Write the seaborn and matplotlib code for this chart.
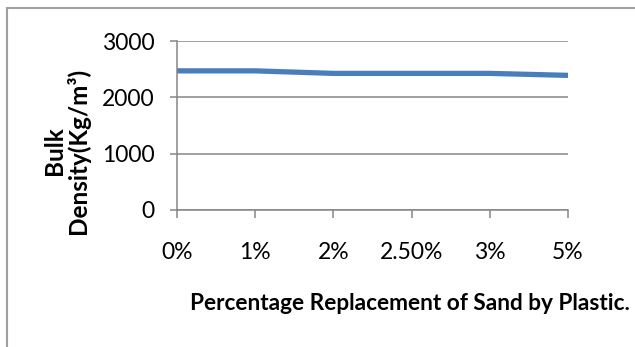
import matplotlib
matplotlib.use("Agg")
import matplotlib.pyplot as plt
from matplotlib.lines import Line2D
import seaborn as sns
import pandas as pd

# Bulk density of concrete for each sand-replacement level
replacement = ["0%", "1%", "2%", "2.50%", "3%", "5%"]
bulk_density = [2470, 2470, 2425, 2425, 2425, 2390]
y_ticks = [0, 1000, 2000, 3000]

sns.set_theme(style="white")
plt.rcParams["font.family"] = ["Lato", "DejaVu Sans"]

df = pd.DataFrame({"replacement": replacement, "density": bulk_density})

fig = plt.figure(figsize=(6.35, 3.47), dpi=100)
ax = fig.add_axes([177 / 635, 1 - 210 / 347, (568 - 177) / 635, (210 - 41) / 347])

sns.lineplot(data=df, x="replacement", y="density", ax=ax, sort=False,
             color="#4A7EBB", linewidth=3.8, solid_capstyle="butt")

grid_c = "#868686"
ax.set_ylim(0, 3000)
ax.set_yticks(y_ticks)
ax.set_xlim(0, len(replacement) - 1)
ax.margins(x=0)
ax.yaxis.grid(True, color=grid_c, linewidth=1.1)
ax.xaxis.grid(False)
ax.set_axisbelow(True)

for side in ["top", "right"]:
    ax.spines[side].set_visible(False)
for side in ["left", "bottom"]:
    ax.spines[side].set_color(grid_c)
    ax.spines[side].set_linewidth(1.1)

ax.tick_params(axis="y", which="major", left=True, length=5, width=1.1,
               color=grid_c, labelsize=16.5, pad=11, labelcolor="black")
ax.tick_params(axis="x", which="major", bottom=True, length=6, width=1.1,
               color=grid_c, labelsize=16.5, pad=17, labelcolor="black")

ax.set_xlabel("")
ax.set_ylabel("")

fig.text(410 / 635, 1 - 303 / 347, "Percentage Replacement of Sand by Plastic.",
         ha="center", va="center", fontsize=16.3, fontweight="bold", color="black")
fig.text(66 / 635, 1 - 151 / 347, "Bulk\nDensity(Kg/m³)", rotation=90,
         ha="center", va="center", fontsize=17.5, fontweight="bold", color="black",
         linespacing=1.0, multialignment="center")

# Light frame around the chart area
fig.add_artist(Line2D([7 / 635, 1.0], [1 - 8 / 347, 1 - 8 / 347],
                      transform=fig.transFigure, color="#A0A0A0", linewidth=1.5))
fig.add_artist(Line2D([7 / 635, 7 / 635], [0.0, 1 - 8 / 347],
                      transform=fig.transFigure, color="#A0A0A0", linewidth=1.5))

fig.savefig("out.png", dpi=100, facecolor="white")
